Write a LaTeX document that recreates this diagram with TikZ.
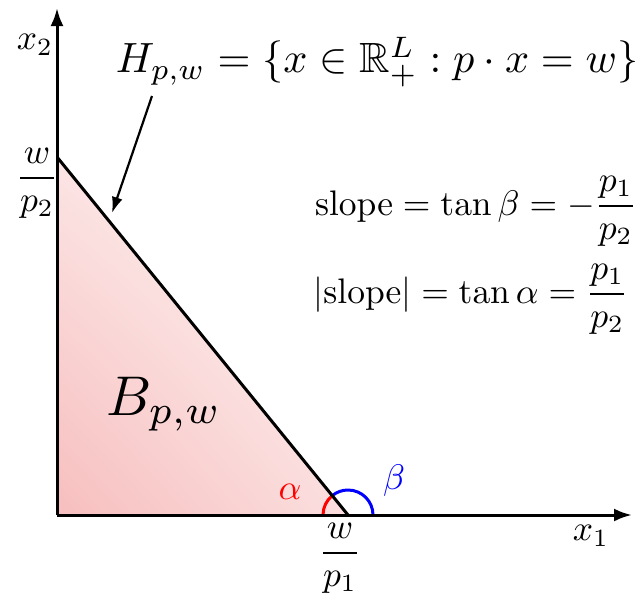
\documentclass[tikz,border=0pt]{standalone}
\usepackage{amsmath,amssymb}
\usetikzlibrary{arrows.meta,shadings}
\definecolor{shLL}{RGB}{247,190,190}
\definecolor{shUR}{RGB}{255,252,252}
\definecolor{shUL}{RGB}{252,228,228}
\definecolor{shLR}{RGB}{251,222,222}
\newcommand{\bigtx}[1]{\scalebox{3.55}{#1}}
\newcommand{\hugetx}[1]{\scalebox{4.23}{#1}}
\newcommand{\hugertx}[1]{\scalebox{5.6}{#1}}
\begin{document}
\begin{tikzpicture}[x=1pt,y=-1pt,
  axis/.style={line width=3pt,-{Latex[length=18pt,width=13pt]}},
  edge/.style={line width=3pt},
  lbl/.style={inner sep=0pt}]
\useasboundingbox (0,0) rectangle (642,597);
\coordinate (O) at (57,515);
\coordinate (Y) at (57,157);
\coordinate (X) at (348,515);
\coordinate (Ytip) at (57,8);
\coordinate (Xtip) at (632,515);
% shaded budget set
\begin{scope}
  \clip (O) -- (Y) -- (X) -- cycle;
  \shade[lower left=shLL, upper right=shUR, upper left=shUL, lower right=shLR]
    (57,157) rectangle (348,515);
\end{scope}
% angles
\draw[blue,line width=3pt] ([xshift=25pt]X) arc[start angle=0,end angle=129,radius=25pt];
\draw[red,line width=3pt] ([xshift=-25pt]X) arc[start angle=180,end angle=129,radius=25pt];
% axes and budget line
\draw[axis] (O) -- (Xtip);
\draw[axis] (O) -- (Ytip);
\draw[edge] (Y) -- (X);
% labels
\node[lbl] (x2) at (35,45) {\bigtx{$x_2$}};
\node[lbl] (x1) at (591,536) {\bigtx{$x_1$}};
\node[lbl] (wp2) at (37,183) {\bigtx{$\dfrac{w}{p_2}$}};
\node[lbl] (wp1) at (340,558) {\bigtx{$\dfrac{w}{p_1}$}};
\node[lbl,red] (al) at (290,492) {\bigtx{$\alpha$}};
\node[lbl,blue] (be) at (394,481) {\bigtx{$\beta$}};
\node[lbl] (B) at (164,404) {\hugertx{$B_{p,w}$}};
\node[lbl] (H) at (377,62) {\hugetx{$H_{p,w}=\{x\in\mathbb{R}^L_+ : p\cdot x = w\}$}};
\node[lbl] (s1) at (476,211) {\bigtx{$\mathrm{slope}=\tan\beta=-\dfrac{p_1}{p_2}$}};
\node[lbl] (s2) at (471,299) {\bigtx{$|\mathrm{slope}|=\tan\alpha=\dfrac{p_1}{p_2}$}};
\coordinate (Hs) at (152,96);
\coordinate (He) at (112,213);
\draw[line width=2.2pt,-{Latex[length=16pt,width=11pt]}] (Hs) -- (He);
\end{tikzpicture}
\end{document}
